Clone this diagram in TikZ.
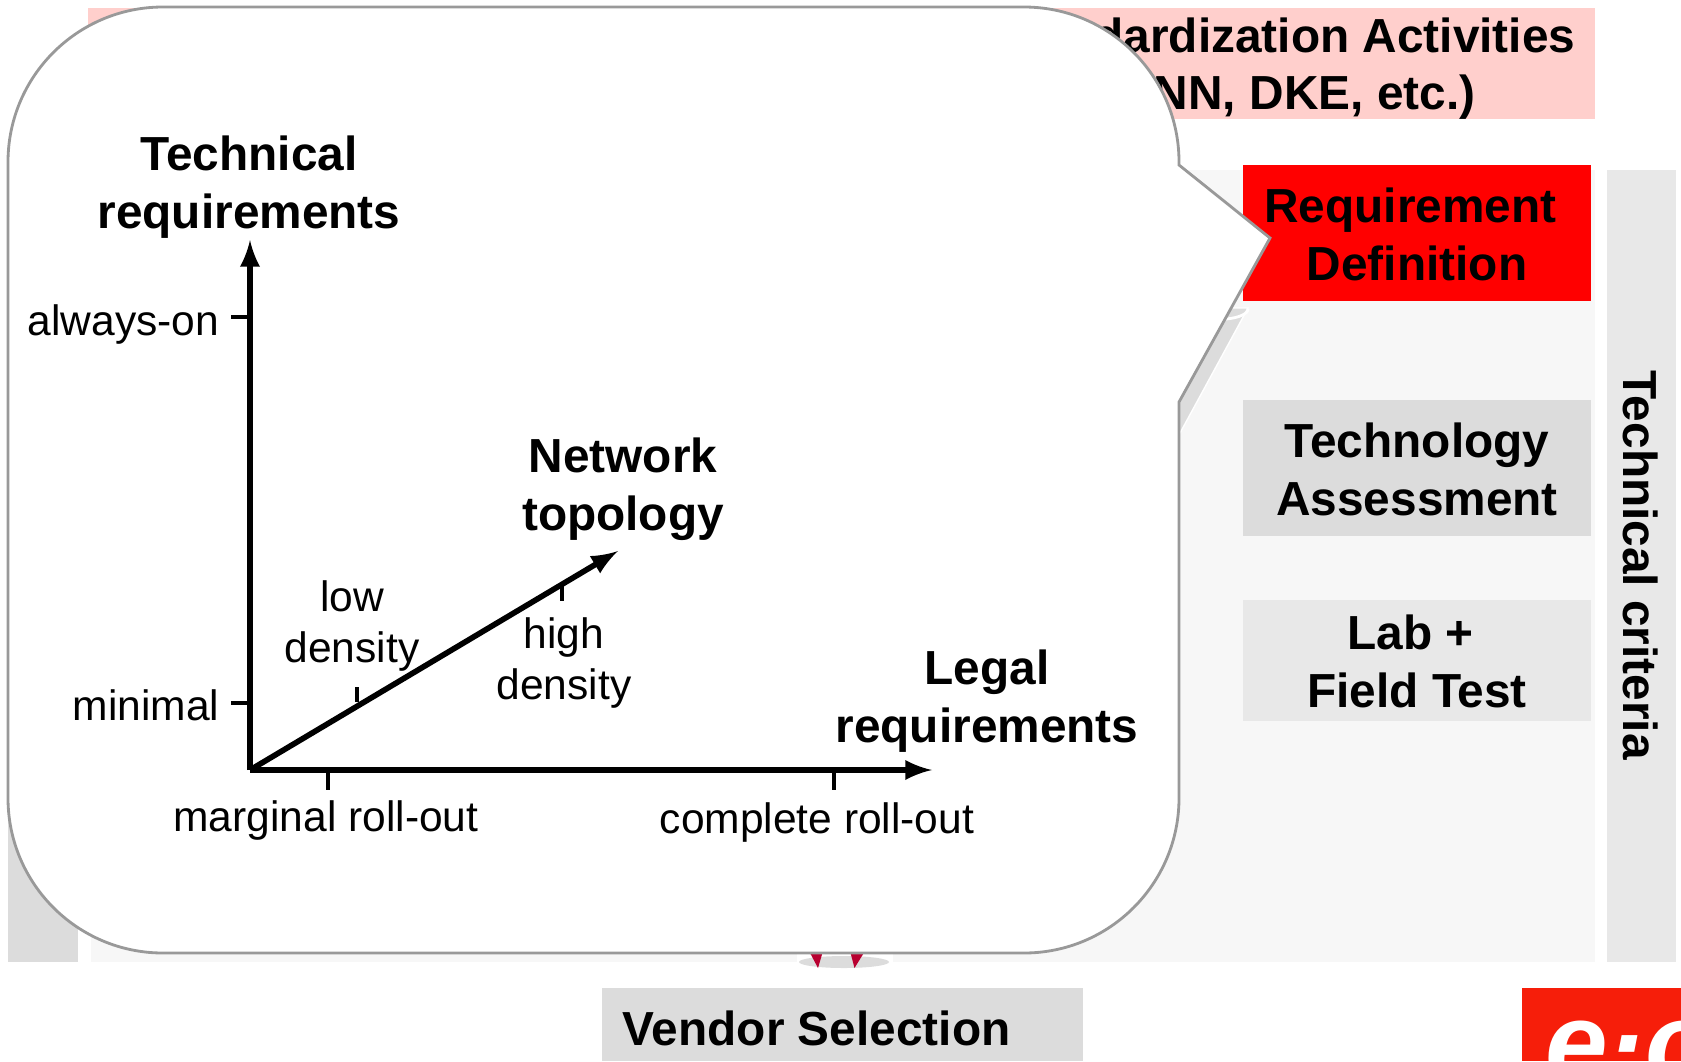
\documentclass[tikz,border=0pt]{standalone}
\usepackage{xcolor}
\usepackage{fontspec}
\setmainfont{Liberation Sans}
\definecolor{panelgray}{HTML}{F7F7F7}
\definecolor{boxgray}{HTML}{DCDCDC}
\definecolor{stripgray}{HTML}{E8E8E8}
\definecolor{pinkbox}{HTML}{FFCFCC}
\definecolor{eonred}{HTML}{F61E0A}
\definecolor{markred}{HTML}{B80030}
\definecolor{outlinegray}{HTML}{999999}
\tikzset{
  boldtxt/.style={align=center,font=\fontsize{13.6}{16.5}\bfseries\selectfont},
  plaintxt/.style={align=center,font=\fontsize{12.1}{14.6}\selectfont},
  axisline/.style={-latex,line width=1.6pt},
  tickline/.style={line width=1pt}
}
\begin{document}
\begin{tikzpicture}
\useasboundingbox (0,0) rectangle (16.81,10.61);
\fill [panelgray] (.91,8.91) rectangle (15.95,.99);
\fill [boxgray] (.08,8.91) rectangle (.78,.99);
\fill [stripgray] (16.07,8.91) rectangle (16.76,.99);
\fill [pinkbox] (.88,10.535) rectangle (15.95,9.42);
\node [boldtxt,anchor=base east,inner sep=0pt] (standards) at (15.76,10.09) {Standardization Activities};
\node [boldtxt,anchor=base east,inner sep=0pt] (institutes) at (14.76,9.52) {(FNN, DKE, etc.)};
\node [boldtxt,rotate=-90] (criteria) at (16.41,4.96) {Technical criteria};
\draw [white,fill=boxgray] (11.5,7.53) -- (12.48,7.53) -- (11.80,6.28) -- (11.5,6.28) -- cycle;
\draw [white,thick] (12.26,7.42) .. controls (12.38,7.43) and (12.48,7.47) .. (12.48,7.52);
\fill [red] (12.43,8.96) rectangle (15.91,7.60);
\fill [boxgray] (12.43,6.61) rectangle (15.91,5.25);
\fill [stripgray] (12.43,4.61) rectangle (15.91,3.40);
\node [boldtxt] (reqdef) at (14.17,8.265) {Requirement\hspace*{.13cm}\\Definition};
\node [boldtxt] (techassess) at (14.17,5.915) {Technology\\Assessment};
\node [boldtxt] (labtest) at (14.17,3.995) {Lab +\hspace*{.13cm}\\Field Test};
% marks below the panel
\fill [white] (7.97,1.08) rectangle (8.93,.99);
\fill [boxgray] (8.44,.99) ellipse (.45cm and .06cm);
\fill [markred] (8.09,1.10) -- (8.23,1.10) -- (8.18,.93) -- cycle;
\fill [markred] (8.50,1.10) -- (8.65,1.10) -- (8.545,.93) -- cycle;
\fill [boxgray] (6.02,.73) rectangle (10.83,0);
\node [boldtxt,anchor=west,inner sep=0pt] (vendor) at (6.22,.33) {Vendor Selection};
% logo
\fill [eonred] (15.22,.73) rectangle (16.81,0);
\begin{scope}
\clip (15.22,.73) rectangle (16.81,0);
\node [anchor=base west,inner sep=0pt,white,font=\fontsize{32}{32}\bfseries\itshape\selectfont] (eon) at (15.45,-.2) {e·on};
\end{scope}
% callout
\draw [outlinegray,fill=white,line width=.8pt] (.08,8.99) arc (180:90:1.55cm) -- (10.24,10.54) arc (90:0:1.55cm) -- (11.79,8.96) -- (12.70,8.23) -- (11.79,6.59) -- (11.79,2.63) arc (0:-90:1.55cm) -- (1.63,1.08) arc (-90:-180:1.55cm) -- cycle;
\coordinate (orig) at (2.50,2.91);
\coordinate (ytop) at (2.50,8.21);
\coordinate (xend) at (9.32,2.91);
\coordinate (dend) at (6.18,5.10);
\draw [axisline] (orig) -- (ytop);
\draw [axisline] (orig) -- (xend);
\draw [axisline] (orig) -- (dend);
\draw [tickline] (2.31,7.44) -- (2.50,7.44);
\draw [tickline] (2.31,3.58) -- (2.50,3.58);
\draw [tickline] (3.28,2.91) -- (3.28,2.71);
\draw [tickline] (8.34,2.91) -- (8.34,2.71);
\draw [tickline] (3.57,3.74) -- (3.57,3.59);
\draw [tickline] (5.62,4.76) -- (5.62,4.60);
\node [boldtxt] (techreq) at (2.49,8.74) {Technical\\requirements};
\node [boldtxt] (topology) at (6.23,5.72) {Network\\topology};
\node [boldtxt] (legalreq) at (9.87,3.60) {Legal\\requirements};
\node [plaintxt,anchor=east,inner sep=0pt] (alwayson) at (2.20,7.37) {always-on};
\node [plaintxt,anchor=east,inner sep=0pt] (minimal) at (2.20,3.56) {minimal};
\node [plaintxt] (marginal) at (3.26,2.41) {marginal roll-out};
\node [plaintxt] (complete) at (8.17,2.39) {complete roll-out};
\node [plaintxt] (lowdens) at (3.52,4.35) {low\\density};
\node [plaintxt] (highdens) at (5.64,3.98) {high\\density};
\end{tikzpicture}
\end{document}
